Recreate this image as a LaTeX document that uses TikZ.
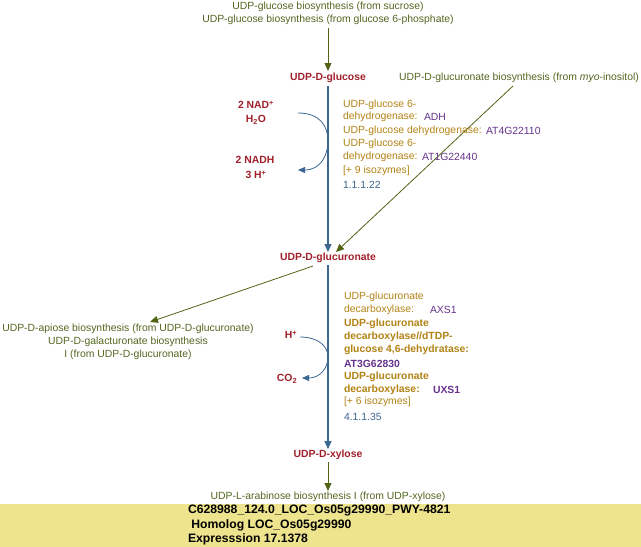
\documentclass[tikz,border=0pt]{standalone}
\usepackage{fontspec}
\setmainfont{Liberation Sans}
\usetikzlibrary{arrows.meta}
\definecolor{pathtxt}{RGB}{82,102,32}
\definecolor{pathline}{RGB}{80,100,20}
\definecolor{cpdred}{RGB}{160,32,42}
\definecolor{enztxt}{RGB}{178,130,20}
\definecolor{genetxt}{RGB}{102,51,140}
\definecolor{ectxt}{RGB}{60,100,145}
\definecolor{rxnblue}{RGB}{60,104,146}
\definecolor{boxyellow}{RGB}{238,228,142}
\tikzset{
  every node/.style={inner sep=0pt, outer sep=0pt},
  pw/.style={text=pathtxt, font=\fontsize{10.4}{12}\selectfont, align=center},
  cpd/.style={text=cpdred, font=\fontsize{10.4}{12}\selectfont\bfseries},
  cof/.style={text=cpdred, font=\fontsize{10.4}{12}\selectfont\bfseries},
  enz/.style={text=enztxt, font=\fontsize{10.4}{12}\selectfont, anchor=west},
  enzb/.style={text=enztxt, font=\fontsize{10.4}{12}\selectfont\bfseries, anchor=west},
  gene/.style={text=genetxt, font=\fontsize{10.4}{12}\selectfont, anchor=west},
  geneb/.style={text=genetxt, font=\fontsize{10.4}{12}\selectfont\bfseries, anchor=west},
  ec/.style={text=ectxt, font=\fontsize{10.4}{12}\selectfont, anchor=west},
  info/.style={text=black, font=\fontsize{12.2}{14}\selectfont\bfseries, anchor=west},
  greenarrow/.style={draw=pathline, line width=0.8pt, -{Triangle[width=7pt,length=8pt]}},
  bluearrow/.style={draw=rxnblue, line width=1.1pt, -{Triangle[width=7pt,length=8pt]}},
  sidearrow/.style={draw=rxnblue, line width=0.8pt, -{Triangle[width=6pt,length=7pt]}},
}
\begin{document}
\begin{tikzpicture}[x=1pt,y=-1pt]
\useasboundingbox (0,0) rectangle (641,547);
\fill[boxyellow] (0,504) rectangle (641,547);

% pathway links
\node[pw] (p1) at (328,7) {UDP-glucose biosynthesis (from sucrose)};
\node[pw] (p2) at (328,20) {UDP-glucose biosynthesis (from glucose 6-phosphate)};
\node[pw] (myo) at (519,78) {UDP-D-glucuronate biosynthesis (from \textit{myo}-inositol)};
\node[pw] (api) at (128,329) {UDP-D-apiose biosynthesis (from UDP-D-glucuronate)};
\node[pw] (gal1) at (128,342) {UDP-D-galacturonate biosynthesis};
\node[pw] (gal2) at (128,355) {I (from UDP-D-glucuronate)};
\node[pw] (ara) at (328,497) {UDP-L-arabinose biosynthesis I (from UDP-xylose)};

% compounds
\node[cpd] (glc) at (328,78) {UDP-D-glucose};
\node[cpd] (glca) at (328,258) {UDP-D-glucuronate};
\node[cpd] (xyl) at (328,455) {UDP-D-xylose};

% connectors
\coordinate (a1s) at (328,28);
\coordinate (a1e) at (328,71);
\draw[greenarrow] (a1s) -- (a1e);
\coordinate (m1) at (513,86);
\coordinate (m2) at (336,252);
\draw[greenarrow] (m1) -- (m2);
\coordinate (r1s) at (328,86);
\coordinate (r1e) at (328,252);
\draw[bluearrow] (r1s) -- (r1e);
\coordinate (g1s) at (313,266);
\coordinate (g1e) at (150,322);
\draw[greenarrow] (g1s) -- (g1e);
\coordinate (r2s) at (328,265);
\coordinate (r2e) at (328,449);
\draw[bluearrow] (r2s) -- (r2e);
\coordinate (a3s) at (328,462);
\coordinate (a3e) at (328,491);
\draw[greenarrow] (a3s) -- (a3e);

% cofactors reaction 1
\node[cof] (nad) at (256,105) {2 NAD\textsuperscript{+}};
\node[cof] (h2o) at (256,120) {H\textsubscript{2}O};
\node[cof] (nadh) at (255,160) {2 NADH};
\node[cof] (hp3) at (256,175) {3 H\textsuperscript{+}};
\coordinate (c1s) at (298,113);
\coordinate (c1e) at (298,170);
\draw[sidearrow] (c1s) .. controls (320,113) and (328,126) .. (328,141)
  .. controls (328,156) and (320,170) .. (c1e);

% enzymes reaction 1
\node[enz] (e1a) at (343,105) {UDP-glucose 6-};
\node[enz] (e1b) at (343,117) {dehydrogenase:};
\node[gene] (g1b) at (424,117) {ADH};
\node[enz] (e1c) at (343,131) {UDP-glucose dehydrogenase:};
\node[gene] (g1c) at (486,131) {AT4G22110};
\node[enz] (e1d) at (343,144) {UDP-glucose 6-};
\node[enz] (e1e) at (343,157) {dehydrogenase:};
\node[gene] (g1e) at (422,157) {AT1G22440};
\node[enz] (e1f) at (343,171) {[+ 9 isozymes]};
\node[ec] (ec1) at (343,185) {1.1.1.22};

% cofactors reaction 2
\node[cof] (hp) at (291,335) {H\textsuperscript{+}};
\node[cof] (co2) at (287,379) {CO\textsubscript{2}};
\coordinate (c2s) at (300,337);
\coordinate (c2e) at (302,378);
\draw[sidearrow] (c2s) .. controls (318,337) and (328,346) .. (328,357)
  .. controls (328,368) and (320,378) .. (c2e);

% enzymes reaction 2
\node[enz] (e2a) at (344,297) {UDP-glucuronate};
\node[enz] (e2b) at (344,310) {decarboxylase:};
\node[gene] (g2b) at (430,310) {AXS1};
\node[enzb] (e2c) at (344,324) {UDP-glucuronate};
\node[enzb] (e2d) at (344,337) {decarboxylase//dTDP-};
\node[enzb] (e2e) at (344,350) {glucose 4,6-dehydratase:};
\node[geneb] (g2e) at (344,364) {AT3G62830};
\node[enzb] (e2f) at (344,377) {UDP-glucuronate};
\node[enzb] (e2g) at (344,390) {decarboxylase:};
\node[geneb] (g2g) at (433,390) {UXS1};
\node[enz] (e2h) at (344,402) {[+ 6 isozymes]};
\node[ec] (ec2) at (344,417) {4.1.1.35};

% info box
\node[info] (i1) at (188,511) {C628988\_124.0\_LOC\_Os05g29990\_PWY-4821};
\node[info] (i2) at (188,525) {\ Homolog LOC\_Os05g29990};
\node[info] (i3) at (188,539) {Expresssion 17.1378};
\end{tikzpicture}
\end{document}
